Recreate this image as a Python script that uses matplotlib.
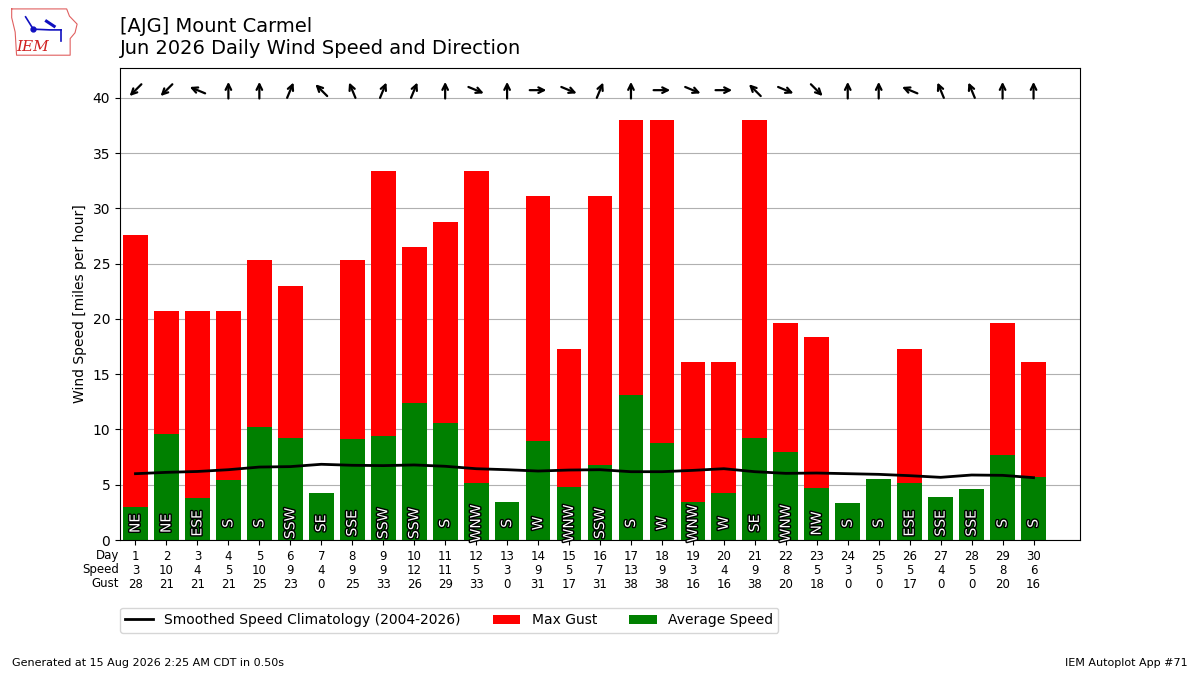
import numpy as np
import matplotlib
matplotlib.use('Agg')
import matplotlib.pyplot as plt
import matplotlib.patheffects as PathEffects
from matplotlib.transforms import offset_copy

# data (mph)
days = list(range(1, 31))
avg_speed = [2.97, 9.58, 3.76, 5.42, 10.2, 9.2, 4.21, 9.15, 9.45, 12.4,
             10.6, 5.12, 3.45, 8.97, 4.79, 6.76, 13.15, 8.79, 3.45, 4.24,
             9.2, 7.94, 4.67, 3.39, 5.48, 5.12, 3.85, 4.58, 7.7, 5.7]
max_gust = [27.6, 20.7, 20.7, 20.7, 25.3, 23.0, 0, 25.3, 33.4, 26.5,
            28.8, 33.4, 0, 31.1, 17.3, 31.1, 38.0, 38.0, 16.1, 16.1,
            38.0, 19.6, 18.4, 0, 0, 17.3, 0, 0, 19.6, 16.1]
climo = [6.0, 6.12, 6.2, 6.36, 6.6, 6.64, 6.85, 6.76, 6.73, 6.79,
         6.67, 6.45, 6.36, 6.24, 6.33, 6.36, 6.18, 6.18, 6.3, 6.45,
         6.18, 6.03, 6.06, 6.0, 5.94, 5.82, 5.67, 5.88, 5.85, 5.64]
drct_txt = ['NE', 'NE', 'ESE', 'S', 'S', 'SSW', 'SE', 'SSE', 'SSW', 'SSW',
            'S', 'WNW', 'S', 'W', 'WNW', 'SSW', 'S', 'W', 'WNW', 'W',
            'SE', 'WNW', 'NW', 'S', 'S', 'ESE', 'SSE', 'SSE', 'S', 'S']
compass = ['N', 'NNE', 'NE', 'ENE', 'E', 'ESE', 'SE', 'SSE',
           'S', 'SSW', 'SW', 'WSW', 'W', 'WNW', 'NW', 'NNW']

fig = plt.figure(figsize=(12, 6.75), dpi=100)
ax = fig.add_axes([0.1, 0.2, 0.8, 0.7])

b1 = ax.bar(days, max_gust, color='r', width=0.8, zorder=2)
b2 = ax.bar(days, avg_speed, color='g', width=0.8, zorder=2)
l1, = ax.plot(days, climo, color='k', lw=2, zorder=4)

ymax = max(max_gust) * 1.125
ax.set_ylim(0, ymax)
ax.set_xlim(0.5, 31.5)
ax.set_yticks(range(0, 41, 5))
ax.grid(axis='y', color='#b0b0b0', zorder=0)
ax.set_axisbelow(True)
ax.set_ylabel('Wind Speed [miles per hour]')

# direction label inside bars
for d, t in zip(days, drct_txt):
    txt = ax.text(d, 1.5, t, rotation=90, ha='center', va='center',
                  color='white', fontsize=10, zorder=5)
    txt.set_path_effects([PathEffects.withStroke(linewidth=2, foreground='k')])

# direction arrows at top (pointing where the wind blows to)
half = 6
for d, t in zip(days, drct_txt):
    deg = compass.index(t) * 22.5
    dx = -np.sin(np.radians(deg))
    dy = -np.cos(np.radians(deg))
    head_tr = offset_copy(ax.transData, fig=fig, x=dx * half, y=dy * half,
                          units='points')
    ax.annotate('', xy=(d, 40.7), xycoords=head_tr,
                xytext=(-dx * half * 2, -dy * half * 2), textcoords='offset points',
                arrowprops=dict(arrowstyle='->', lw=1.6, color='k',
                                shrinkA=0, shrinkB=0),
                annotation_clip=False)

# table under the axis
ax.set_xticks(days)
ax.set_xticklabels(['%d\n%.0f\n%.0f' % (d, s, g)
                    for d, s, g in zip(days, avg_speed, max_gust)],
                   fontsize=8.5)
for lab in ax.get_xticklabels():
    lab.set_linespacing(1.1)
fig.text(0.099, 1 - 549 / 675, 'Day\nSpeed\nGust', ha='right', va='top',
         multialignment='right', fontsize=8.5, linespacing=1.1)

fig.text(0.1, 0.975, '[AJG] Mount Carmel\nJun 2026 Daily Wind Speed and Direction',
         ha='left', va='top', fontsize=14)

fig.legend([l1, b1, b2],
           ['Smoothed Speed Climatology (2004-2026)', 'Max Gust', 'Average Speed'],
           loc='upper left', bbox_to_anchor=(0.094, 0.11), ncol=3, fontsize=10,
           columnspacing=2.3)

fig.text(0.01, 0.01, 'Generated at 15 Aug 2026 2:25 AM CDT in 0.50s',
         fontsize=8, ha='left', va='bottom')
fig.text(0.99, 0.01, 'IEM Autoplot App #71', fontsize=8, ha='right', va='bottom')

# small IEM logo
lax = fig.add_axes([0.008, 0.915, 0.058, 0.075])
lax.set_xlim(0, 10)
lax.set_ylim(0, 7)
lax.axis('off')
lax.plot([0.3, 8.2, 8.6, 9.7, 9.4, 8.7, 8.7, 1.0, 0.8, 0.3, 0.3],
         [6.7, 6.7, 5.7, 4.6, 3.4, 2.6, 0.3, 0.3, 3.5, 5.5, 6.7],
         color='#e06060', lw=0.8)
lax.plot([2.3, 3.4, 5.8, 7.4], [5.6, 3.9, 3.8, 3.8], color='#1010c0', lw=1.2)
lax.plot([3.4], [3.9], 'o', color='#1010c0', ms=3.5)
lax.plot([7.4, 7.4], [3.8, 2.2], color='#1010c0', lw=1.2)
lax.plot([5.3, 6.4], [5.0, 4.3], color='#1010c0', lw=2.2)
lax.text(3.3, 1.5, 'IEM', color='#d02020', fontsize=11, family='DejaVu Serif',
         style='italic', ha='center', va='center')

plt.savefig('out.png', dpi=100)
